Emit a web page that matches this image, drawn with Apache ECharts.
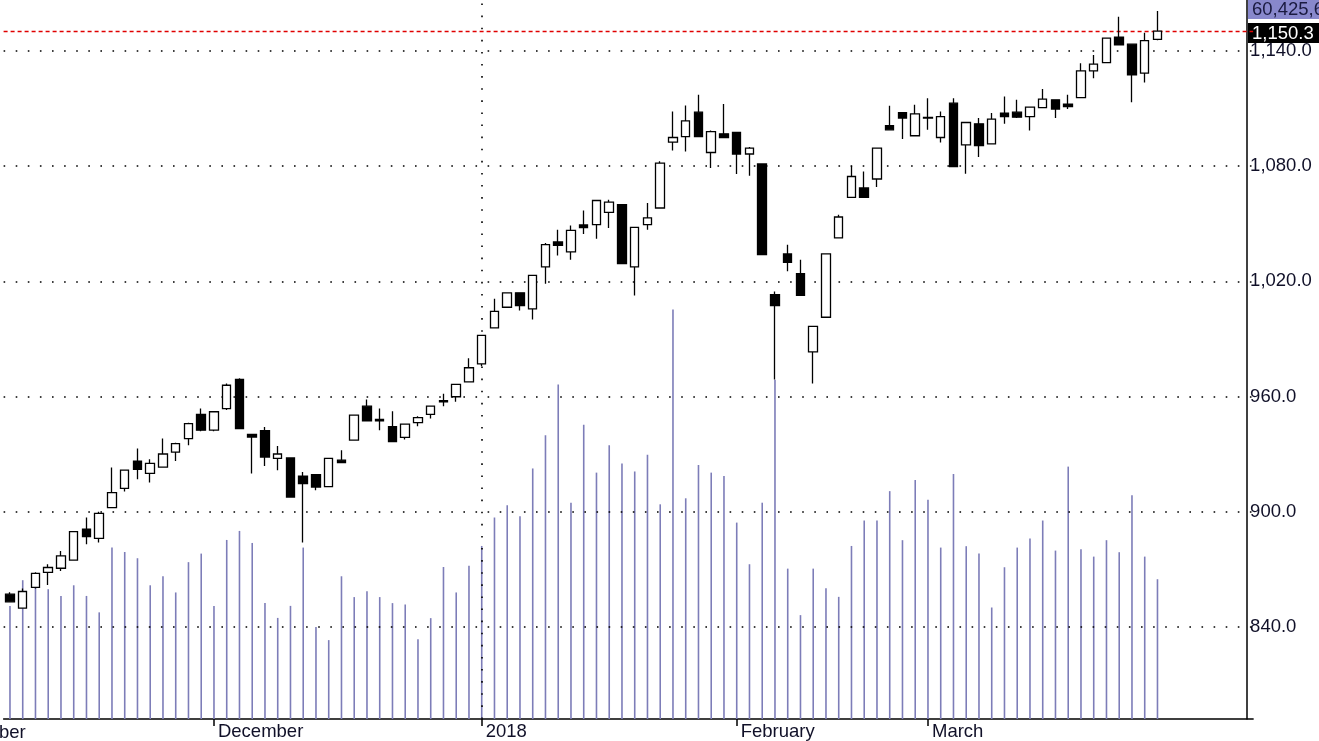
<!DOCTYPE html>
<html><head><meta charset="utf-8">
<script src="https://cdn.jsdelivr.net/npm/echarts@6/dist/echarts.min.js"></script>
<style>html,body{margin:0;padding:0;background:#fff}#c{width:1319px;height:741px}</style>
</head><body><div id="c"></div>
<script>
// candles: [open, high, low, close]
const ohlc = [
[857.1,858.1,852.9,853.1],[849.8,860.1,849.6,858.5],[860.6,868.5,860.0,867.9],[868.4,872.7,861.9,871.0],
[870.6,879.6,869.2,877.0],[874.8,890.0,874.5,889.7],[890.9,897.0,883.1,887.1],[886.2,900.0,884.0,899.2],
[902.2,923.0,902.0,910.0],[912.2,922.0,910.5,921.7],[926.4,932.9,916.9,922.1],[920.0,927.3,915.2,925.2],
[923.3,938.2,923.0,930.1],[931.1,936.0,926.4,935.5],[938.1,946.3,934.7,945.9],[950.7,953.8,942.0,942.5],
[942.5,952.5,942.0,952.1],[953.7,966.8,953.0,965.9],[968.9,969.5,943.0,943.3],[940.3,940.5,919.9,938.9],
[942.2,944.1,923.8,928.5],[927.8,934.2,921.6,930.1],[928.0,928.3,907.4,907.7],[918.6,920.7,884.0,914.7],
[919.3,919.6,911.2,912.9],[913.1,928.0,912.8,927.8],[926.9,932.1,925.4,925.6],[937.3,950.6,937.0,950.3],
[955.0,958.5,947.0,947.4],[948.1,953.8,942.5,947.4],[944.3,952.4,936.3,936.5],[938.7,946.0,937.7,945.7],
[946.4,949.8,944.6,949.0],[950.7,955.3,948.6,955.0],[957.2,961.5,955.0,957.9],[959.9,966.6,957.3,966.3],
[967.7,980.0,967.4,975.0],[977.0,992.2,975.8,991.9],[995.8,1010.9,995.5,1004.4],[1006.5,1014.2,1006.3,1014.0],
[1014.0,1014.3,1004.8,1007.4],[1005.7,1023.3,1000.1,1023.1],[1027.5,1040.0,1018.8,1039.1],[1040.5,1046.9,1033.5,1038.7],
[1035.3,1049.1,1031.3,1046.5],[1049.4,1056.9,1044.7,1048.0],[1049.5,1062.3,1042.2,1062.1],[1055.9,1062.5,1047.8,1061.3],
[1059.9,1060.0,1029.0,1029.2],[1027.5,1048.3,1012.6,1048.1],[1049.5,1060.8,1046.9,1053.0],[1058.2,1082.5,1058.0,1081.6],
[1092.5,1108.4,1088.1,1094.9],[1095.4,1111.5,1087.6,1103.6],[1108.1,1117.1,1095.0,1095.4],[1087.1,1098.5,1079.0,1098.0],
[1096.8,1112.4,1094.7,1094.9],[1097.5,1097.7,1075.9,1086.3],[1086.3,1090.0,1075.0,1089.4],[1081.1,1081.5,1033.7,1033.9],
[1013.1,1014.7,968.9,1007.4],[1034.3,1039.1,1025.2,1029.9],[1024.0,1031.3,1012.5,1012.7],[983.3,996.8,966.8,996.6],
[1001.3,1034.5,1001.0,1034.3],[1042.6,1054.7,1042.4,1053.5],[1063.7,1080.2,1063.5,1074.6],[1068.6,1077.2,1063.5,1063.7],
[1073.3,1089.6,1069.1,1089.4],[1101.1,1111.4,1098.7,1098.9],[1107.9,1108.1,1094.1,1105.0],[1095.8,1111.9,1095.6,1107.2],
[1105.0,1115.4,1098.9,1105.4],[1094.9,1108.4,1092.3,1105.8],[1112.8,1115.4,1079.6,1079.8],[1091.1,1102.9,1076.0,1102.7],
[1102.0,1105.0,1084.7,1090.7],[1091.6,1107.6,1091.4,1104.5],[1107.6,1116.2,1102.0,1105.8],[1108.1,1114.5,1105.0,1105.5],
[1105.8,1111.0,1098.5,1110.7],[1110.5,1120.1,1110.3,1114.9],[1114.5,1114.7,1105.0,1109.7],[1112.3,1117.1,1109.7,1111.0],
[1115.7,1133.6,1115.5,1129.6],[1129.6,1137.9,1125.8,1133.1],[1133.9,1147.0,1133.7,1146.6],[1147.1,1157.8,1142.8,1143.1],
[1143.5,1143.7,1113.3,1127.5],[1128.4,1149.5,1123.5,1145.3],[1146.0,1160.8,1145.5,1150.3]
];
// volume in millions
const volume = [
48.9,60.0,57.3,56.1,53.2,57.8,53.2,46.1,74.1,72.2,69.5,57.8,61.7,54.7,67.8,71.5,48.9,77.4,81.3,76.1,
50.1,43.7,48.9,74.1,39.8,34.1,61.7,52.7,55.2,52.7,50.1,49.5,34.5,43.6,65.7,54.7,66.2,74.8,87.1,92.4,
87.6,108.3,122.7,144.6,93.5,127.2,106.5,118.3,110.4,107.0,114.2,92.8,177.0,95.4,109.8,106.5,105.0,84.9,66.9,93.5,
146.7,65.0,44.9,65.0,56.5,52.8,74.8,85.8,85.8,98.5,77.3,103.3,94.8,74.1,105.9,74.7,71.5,48.2,65.6,74.1,
78.0,85.8,72.8,109.1,73.4,70.2,77.3,72.1,96.7,70.2,60.4256
];
const monthLabels = {16:'December',37:'2018',57:'February',72:'March'};
const priceTicks = [840,900,960,1020,1080,1140];
const lastClose = 1150.3;
const lastVolumeText = '60,425,6';
const TOTAL = 98;

const cats = [], candle = [], vol = [];
for (let i = 0; i < TOTAL; i++) {
  cats.push(monthLabels[i] || '');
  if (i < ohlc.length) { const r = ohlc[i]; candle.push([r[0], r[3], r[2], r[1]]); vol.push(volume[i]); }
  else { candle.push('-'); vol.push('-'); }
}
const monthIdx = Object.keys(monthLabels).map(Number);
const dot = {color:'#000', width:1.6, type:[1.6,10.5]};
const chart = echarts.init(document.getElementById('c'));
chart.setOption({
  animation:false,
  grid:{left:3.6, top:0, width:1249.5, bottom:21},
  xAxis:{type:'category', data:cats, boundaryGap:true,
    axisLine:{show:true, lineStyle:{color:'#000', width:1.5}},
    axisTick:{show:true, alignWithLabel:true, length:7, lineStyle:{color:'#000', width:1.5}, interval:(i)=>monthIdx.includes(i)},
    axisLabel:{interval:(i)=>monthIdx.includes(i), align:'left', padding:[0,0,0,4], margin:3, fontSize:18.5, color:'#101028', fontFamily:'Liberation Sans'},
    splitLine:{show:false}},
  yAxis:[{type:'value', position:'right', min:792.1, max:1166.5, offset:-6,
    axisLine:{show:true, lineStyle:{color:'#000', width:1.5}}, axisTick:{show:false},
    splitLine:{show:false},
    axisLabel:{customValues:priceTicks, margin:3, fontSize:18.5, color:'#101028', fontFamily:'Liberation Sans',
      formatter:(v)=>v.toLocaleString('en-US',{minimumFractionDigits:1,maximumFractionDigits:1})}},
    {type:'value', min:0, max:310.8, show:false}],
  series:[
    {type:'bar', yAxisIndex:1, data:vol, barWidth:1.6, itemStyle:{color:'#7d7db8'}, z:1, silent:true},
    {type:'candlestick', data:candle, barWidth:9, z:3,
      itemStyle:{color:'#fff', color0:'#000', borderColor:'#000', borderColor0:'#000', borderWidth:1.3},
      markLine:{silent:true, symbol:'none', label:{show:false}, z:2,
        data:[...priceTicks.map(v=>({yAxis:v, lineStyle:dot})),
              {xAxis:37, lineStyle:dot},
              {yAxis:lastClose, lineStyle:{color:'#e00000', width:1.3, type:[4,3]}}]}}
  ],
  graphic:[
    {type:'text', left:-1, top:723, style:{text:'ber', fontSize:18.5, fill:'#101028', fontFamily:'Liberation Sans'}},
    {type:'rect', shape:{x:1248, y:0, width:72, height:19}, style:{fill:'#8888cc'}},
    {type:'text', left:1252, top:0, style:{text:lastVolumeText, fontSize:18.5, fill:'#1a1a40', fontFamily:'Liberation Sans'}},
    {type:'rect', shape:{x:1248, y:23, width:72, height:20}, style:{fill:'#000'}},
    {type:'text', left:1252, top:24, style:{text:lastClose.toLocaleString('en-US',{minimumFractionDigits:1}), fontSize:18.5, fill:'#fff', fontFamily:'Liberation Sans'}}
  ]
});
</script></body></html>
